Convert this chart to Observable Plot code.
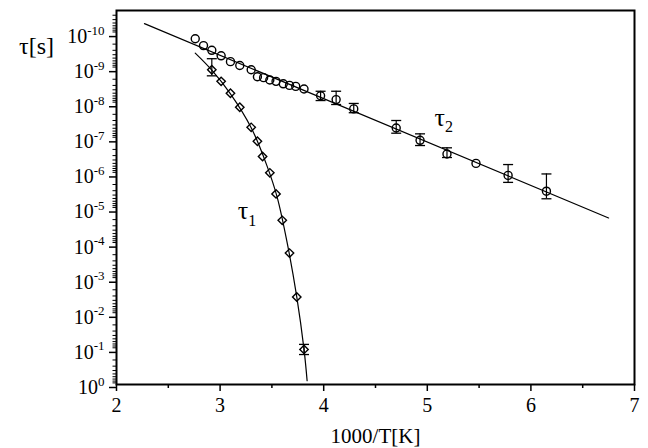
<!DOCTYPE html>
<html><head><meta charset="utf-8">
<script src="https://cdn.jsdelivr.net/npm/d3@7"></script>
<script src="https://cdn.jsdelivr.net/npm/@observablehq/plot@0.6"></script>
<style>body{margin:0;background:#fff}</style>
</head><body><div id="chart"></div>
<script>
// tau_2 data (1000/T, tau in s)
const tau2X = [2.76, 2.84, 2.92, 3.01, 3.10, 3.19, 3.30, 3.36, 3.42, 3.48, 3.54, 3.61, 3.67, 3.73, 3.81, 3.97, 4.12, 4.29, 4.70, 4.93, 5.19, 5.47, 5.78, 6.15];
const tau2Y = [1.4e-10, 2.2e-10, 3.0e-10, 4.3e-10, 6.3e-10, 8.1e-10, 1.07e-9, 1.7e-9, 1.8e-9, 2.1e-9, 2.3e-9, 2.7e-9, 3.0e-9, 3.2e-9, 3.8e-9, 5.9e-9, 7.6e-9, 1.4e-8, 4.9e-8, 1.1e-7, 2.7e-7, 5.0e-7, 1.1e-6, 3.1e-6];
const err2X  = [3.97, 4.12, 4.29, 4.70, 4.93, 5.19, 5.78, 6.15];
const err2Lo = [4.4e-9, 4.4e-9, 9.8e-9, 3.0e-8, 7.2e-8, 1.8e-7, 5.4e-7, 1.0e-6];
const err2Hi = [8.1e-9, 1.05e-8, 1.8e-8, 6.9e-8, 1.55e-7, 3.4e-7, 1.74e-6, 5.1e-6];
// tau_1 data
const tau1X = [2.92, 3.01, 3.10, 3.19, 3.30, 3.36, 3.41, 3.48, 3.54, 3.60, 3.67, 3.74, 3.81];
const tau1Y = [1.07e-9, 2.3e-9, 5.0e-9, 1.26e-8, 4.7e-8, 1.17e-7, 3.2e-7, 9.3e-7, 3.7e-6, 2.1e-5, 1.8e-4, 3.2e-3, 0.10];
const err1X  = [2.92, 3.81];
const err1Lo = [5.2e-10, 0.072];
const err1Hi = [1.6e-9, 0.14];
// fit curves
const fit2X = [2.27, 6.75];
const fit2Y = [5.2e-11, 1.8e-5];
const fit1X = [2.76, 2.92, 3.10, 3.30, 3.45, 3.55, 3.65, 3.74, 3.81, 3.84];
const fit1Y = [3.6e-10, 1.1e-9, 5.2e-9, 4.8e-8, 5.6e-7, 4.5e-6, 1.0e-4, 3.2e-3, 0.10, 0.78];
// axes
const xTicks = [2, 3, 4, 5, 6, 7];
const xMinorTicks = [2.5, 3.5, 4.5, 5.5, 6.5];
const yExponents = [-10, -9, -8, -7, -6, -5, -4, -3, -2, -1, 0];
const xLabel = "1000/T[K]";
const yLabel = "τ[s]";
// series labels
const seriesLabels = ["τ_1", "τ_2"];
const seriesLabelX = [3.17, 5.07];
const seriesLabelY = [1.15e-5, 2.45e-8];

const yMajor = yExponents.map(e => Math.pow(10, e));
const yMinor = [];
for (let e = -11; e < 0; e++) for (let k = 2; k <= 9; k++) {
  const v = k * Math.pow(10, e);
  if (v >= 2.2e-11) yMinor.push(v);
}
const tau2 = tau2X.map((x, i) => ({x, y: tau2Y[i]}));
const tau1 = tau1X.map((x, i) => ({x, y: tau1Y[i]}));
const err2 = err2X.map((x, i) => ({x, lo: err2Lo[i], hi: err2Hi[i]}));
const err1 = err1X.map((x, i) => ({x, lo: err1Lo[i], hi: err1Hi[i]}));
const errs = err2.concat(err1);
const caps = errs.flatMap(d => [{x: d.x, y: d.lo}, {x: d.x, y: d.hi}]);
const fit2 = fit2X.map((x, i) => ({x, y: fit2Y[i]}));
const fit1 = fit1X.map((x, i) => ({x, y: fit1Y[i]}));
const labels = seriesLabels.map((t, i) => ({t, x: seriesLabelX[i], y: seriesLabelY[i]}));

const capSymbol = {draw(ctx, size) { const w = Math.sqrt(size / Math.PI); ctx.moveTo(-w, 0); ctx.lineTo(w, 0); }};
const font = "'Liberation Serif', 'Times New Roman', serif";

const chart = Plot.plot({
  width: 648, height: 448,
  marginLeft: 116, marginRight: 14, marginTop: 10, marginBottom: 64,
  style: {fontFamily: font, background: "#fff", color: "#000"},
  x: {type: "linear", domain: [2, 7], axis: null},
  y: {type: "log", domain: [1, 2.2e-11], axis: null},
  marks: [
    Plot.line(fit2, {x: "x", y: "y", stroke: "black", strokeWidth: 1.2}),
    Plot.line(fit1, {x: "x", y: "y", stroke: "black", strokeWidth: 1.2, curve: "catmull-rom"}),
    Plot.ruleX(errs, {x: "x", y1: "lo", y2: "hi", stroke: "black", strokeWidth: 1.2}),
    Plot.dot(caps, {x: "x", y: "y", symbol: capSymbol, r: 5, stroke: "black", strokeWidth: 1.3}),
    Plot.dot(tau2, {x: "x", y: "y", r: 4, stroke: "black", strokeWidth: 1.4, fill: "none"}),
    Plot.dot(tau1, {x: "x", y: "y", symbol: "diamond2", r: 3.8, stroke: "black", strokeWidth: 1.4, fill: "none"}),
    Plot.axisY({ticks: yMajor, tickSize: 7, tickPadding: 5, strokeWidth: 1.5, fontSize: 20, dy: 3,
      tickFormat: d => `10^${Math.round(Math.log10(d))}`, label: null}),
    Plot.axisY({ticks: yMinor, tickSize: 3.5, strokeWidth: 1, text: null, label: null}),
    Plot.axisX({ticks: xTicks, tickSize: 7, tickPadding: 6, strokeWidth: 1.5, fontSize: 20,
      tickFormat: d => String(d), label: null}),
    Plot.axisX({ticks: xMinorTicks, tickSize: 4, strokeWidth: 1.5, text: null, label: null}),
    Plot.frame({stroke: "black", strokeWidth: 2}),
    Plot.text(labels, {x: "x", y: "y", text: "t", textAnchor: "start", fontSize: 26}),
    Plot.text([xLabel], {frameAnchor: "bottom", lineAnchor: "middle", dy: 52, fontSize: 21}),
    Plot.text([yLabel], {frameAnchor: "top-left", lineAnchor: "middle", textAnchor: "middle", dx: -80, dy: 36, fontSize: 24})
  ]
});
document.getElementById("chart").appendChild(chart);

// superscripts / subscripts as tspans
const ns = "http://www.w3.org/2000/svg";
chart.querySelectorAll("text").forEach(t => {
  const s = t.textContent;
  const m = s.match(/^(.*?)([\^_])(.+)$/);
  if (!m) return;
  const fs = parseFloat(getComputedStyle(t).fontSize) || 19;
  while (t.firstChild) t.removeChild(t.firstChild);
  const a = document.createElementNS(ns, "tspan"); a.textContent = m[1];
  const b = document.createElementNS(ns, "tspan"); b.textContent = m[3];
  if (m[2] === "^") {
    b.setAttribute("font-size", Math.round(fs * 0.66));
    b.setAttribute("dy", -fs * 0.42);
  } else {
    b.setAttribute("font-size", Math.round(fs * 0.62));
    b.setAttribute("dy", fs * 0.25);
  }
  t.appendChild(a); t.appendChild(b);
});
</script>
</body></html>
